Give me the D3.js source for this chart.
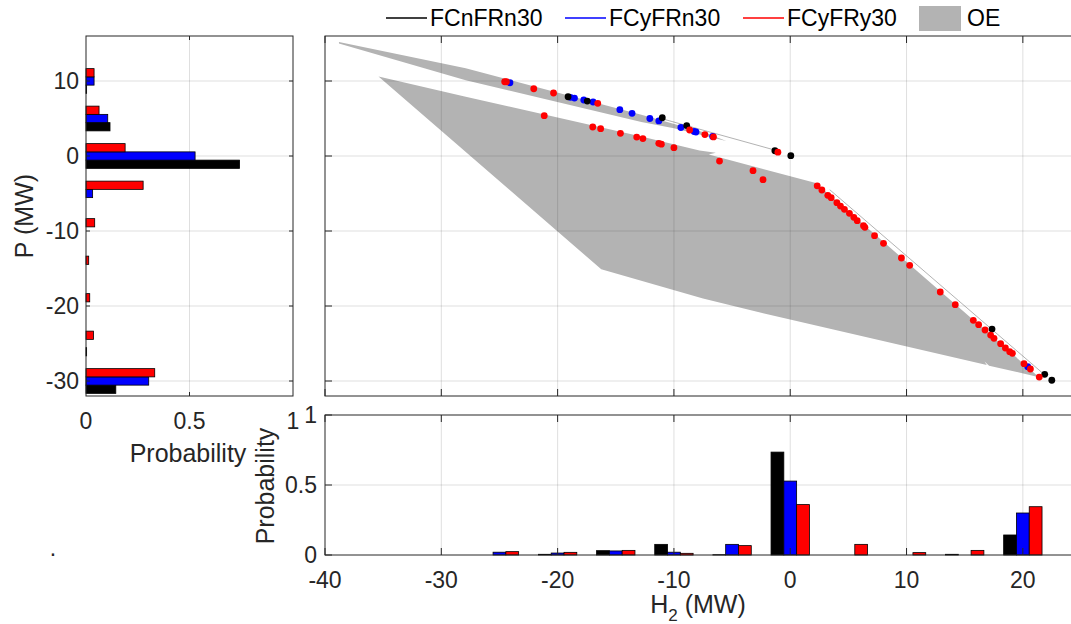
<!DOCTYPE html>
<html lang="en">
<head>
  <meta charset="UTF-8">
  <title>OE scatter with marginal histograms</title>
  <script src="https://d3js.org/d3.v7.min.js"></script>
  <style>
    body { margin: 0; background: #fff; }
    svg { font-family: "Liberation Sans", Arial, sans-serif; }
    .tick-label { font-size: 23px; fill: #262626; }
    .axis-label { font-size: 25px; fill: #262626; }
    .legend text { font-size: 23px; fill: #000; }
  </style>
</head>
<body>
  <svg width="1071" height="624"></svg>
  <script>
    // ---- data ----
    const seriesNames = ['FCnFRn30', 'FCyFRn30', 'FCyFRy30'];
    const seriesColors = ['#000000', '#0000ff', '#ff0000'];

    // P histogram (left), bins in MW
    const pBins = [10, 5, 0, -5, -10, -15, -20, -25, -30];
    const pBlack = [0.003, 0.116, 0.742, 0, 0, 0, 0, 0.003, 0.144];
    const pBlue = [0.039, 0.105, 0.527, 0.032, 0, 0, 0, 0, 0.303];
    const pRed = [0.039, 0.063, 0.189, 0.276, 0.042, 0.013, 0.018, 0.036, 0.332];

    // H2 histogram (bottom), bins in MW
    const hBins = [-25, -20, -15, -10, -5, 0, 5, 10, 15, 20];
    const hBlack = [0, 0.005, 0.031, 0.076, 0.002, 0.735, 0, 0, 0.005, 0.143];
    const hBlue = [0.02, 0.014, 0.029, 0.02, 0.076, 0.528, 0, 0, 0, 0.30];
    const hRed = [0.024, 0.019, 0.033, 0.012, 0.067, 0.36, 0.076, 0.017, 0.033, 0.345];

    // operating envelope (OE) outline
    const oeBigX = [-35.4, -27.9, -12.8, -7.8, -6.4, -7.0, 2.2, 21.4, 17.1, 16.7, 16.9, -2.5, -7.5, -16.25];
    const oeBigY = [10.6, 7.9, 2.6, 0.75, 0.45, 0.2, -3.6, -29.5, -27.95, -27.4, -27.85, -20.9, -19.0, -15.1];
    const oeSliverX = [-38.8, -27.9, -12.8, -7.3, -5.5, -10.0, -12.8, -27.9, -38.8];
    const oeSliverY = [15.2, 11.7, 5.5, 3.1, 2.0, 3.7, 4.55, 10.1, 15.0];
    const oeThinX = [[-11.1, -1.35], [3.4, 21.74]];
    const oeThinY = [[5.0, 0.8], [-4.5, -29.0]];

    // operating points (H2, P)
    const blackH2 = [-19.1, -17.45, -11.0, -8.9, -1.32, 0.05, 17.35, 21.88, 22.49];
    const blackP = [7.9, 7.33, 5.1, 4.06, 0.7, 0.04, -23.07, -29.11, -29.9];
    const blueH2 = [-24.1, -18.9, -18.55, -17.75, -16.95, -14.65, -13.6, -12.07, -11.3, -9.4, -8.27, -8.1, -6.67, 20.42];
    const blueP = [9.77, 7.82, 7.73, 7.47, 7.2, 6.18, 5.69, 5.0, 4.68, 3.8, 3.27, 3.2, 2.6, -28.09];
    const redH2 = [-24.55, -24.4, -22.05, -20.35, -16.55, -8.65, -7.34, -6.6, -1.06,
      -21.15, -16.98, -16.3, -14.6, -13.2, -12.67, -11.3, -11.08, -10.0, -6.08, -3.2, -2.34,
      2.32, 2.72, 3.23, 3.52, 4.01, 4.32, 4.66, 5.09, 5.47, 5.76, 6.3, 6.42, 7.25, 8.02,
      9.56, 10.27, 12.9, 14.19, 15.74, 16.2, 16.75, 17.23, 17.52, 18.09, 18.5, 18.87, 19.1,
      20.1, 20.65, 21.41];
    const redP = [9.9, 9.9, 8.97, 8.4, 7.02, 3.47, 2.86, 2.55, 0.51,
      5.38, 3.87, 3.64, 3.02, 2.53, 2.33, 1.69, 1.58, 1.11, -0.67, -1.96, -3.16,
      -3.97, -4.53, -5.24, -5.56, -6.22, -6.67, -7.11, -7.64, -8.18, -8.62, -9.29, -9.51, -10.62, -11.64,
      -13.6, -14.58, -18.13, -19.82, -21.91, -22.49, -23.2, -23.87, -24.31, -25.02, -25.6, -26.09, -26.31,
      -27.69, -28.4, -29.47];

    const xTicks = [-40, -30, -20, -10, 0, 10, 20];
    const pTicks = [-30, -20, -10, 0, 10];
    const probTicks = [0, 0.5, 1];

    // ---- layout ----
    const svg = d3.select('svg');
    const axisColor = '#262626';
    const oeColor = '#b3b3b3';

    const x = d3.scaleLinear().domain([-40, 25]).range([325, 1081]);
    const y = d3.scaleLinear().domain([-32, 16]).range([396, 36]);
    const xProbL = d3.scaleLinear().domain([0, 1]).range([86, 293]);
    const yProbB = d3.scaleLinear().domain([0, 1]).range([555, 415]);

    const barW = 1.1;   // MW, one bar of a group

    function gridLines(g, xs, ys, x0, x1, y0, y1) {
      xs.forEach(v => g.append('line').attr('x1', v).attr('x2', v).attr('y1', y0).attr('y2', y1));
      ys.forEach(v => g.append('line').attr('x1', x0).attr('x2', x1).attr('y1', v).attr('y2', v));
      g.attr('stroke', axisColor).attr('stroke-opacity', 0.15).attr('stroke-width', 1);
    }

    function frame(x0, x1, y0, y1) {
      svg.append('rect')
        .attr('x', x0).attr('y', y0).attr('width', x1 - x0).attr('height', y1 - y0)
        .attr('fill', 'none').attr('stroke', axisColor).attr('stroke-width', 1);
    }

    function ticks(xs, ys, x0, x1, y0, y1, len) {
      const g = svg.append('g').attr('stroke', axisColor).attr('stroke-width', 1);
      xs.forEach(v => {
        g.append('line').attr('x1', v).attr('x2', v).attr('y1', y1).attr('y2', y1 - len);
        g.append('line').attr('x1', v).attr('x2', v).attr('y1', y0).attr('y2', y0 + len);
      });
      ys.forEach(v => {
        g.append('line').attr('x1', x0).attr('x2', x0 + len).attr('y1', v).attr('y2', v);
        g.append('line').attr('x1', x1).attr('x2', x1 - len).attr('y1', v).attr('y2', v);
      });
    }

    // ---- main panel: OE + operating points ----
    const line = d3.line().x(d => x(d[0])).y(d => y(d[1]));
    const main = svg.append('g');
    main.append('path')
      .attr('d', line(d3.zip(oeBigX, oeBigY)) + 'Z')
      .attr('fill', oeColor);
    main.append('path')
      .attr('d', line(d3.zip(oeSliverX, oeSliverY)) + 'Z')
      .attr('fill', oeColor);
    oeThinX.forEach((xs, i) => {
      main.append('path')
        .attr('d', line(d3.zip(xs, oeThinY[i])))
        .attr('fill', 'none').attr('stroke', oeColor).attr('stroke-width', 1);
    });

    gridLines(svg.append('g'), xTicks.slice(1).map(x), pTicks.map(y), 325, 1081, 36, 396);

    const points = [
      { h: blueH2, p: blueP, c: seriesColors[1] },
      { h: blackH2, p: blackP, c: seriesColors[0] },
      { h: redH2, p: redP, c: seriesColors[2] }
    ];
    points.forEach(s => {
      main.append('g').selectAll('circle')
        .data(d3.zip(s.h, s.p))
        .enter()
        .append('circle')
        .attr('cx', d => x(d[0]))
        .attr('cy', d => y(d[1]))
        .attr('r', 3.4)
        .attr('fill', s.c);
    });

    frame(325, 1081, 36, 396);
    ticks(xTicks.map(x), pTicks.map(y), 325, 1081, 36, 396, 7);

    // ---- left panel: P histogram ----
    gridLines(svg.append('g'), [xProbL(0.5)], pTicks.map(y), 86, 293, 36, 396);
    const pSeries = [pBlack, pBlue, pRed];
    pSeries.forEach((vals, k) => {
      const off = (1 - k) * barW;  // black lowest, red on top
      svg.append('g').selectAll('rect')
        .data(d3.zip(pBins, vals).filter(d => d[1] > 0))
        .enter()
        .append('rect')
        .attr('x', xProbL(0))
        .attr('y', d => y(d[0] - off + barW / 2))
        .attr('width', d => xProbL(d[1]) - xProbL(0))
        .attr('height', y(0) - y(barW))
        .attr('fill', seriesColors[k])
        .attr('stroke', '#000')
        .attr('stroke-width', 0.8);
    });
    frame(86, 293, 36, 396);
    ticks([xProbL(0.5)], pTicks.map(y), 86, 293, 36, 396, 4);

    svg.append('g').selectAll('text')
      .data(pTicks)
      .enter()
      .append('text')
      .attr('class', 'tick-label')
      .attr('x', 79)
      .attr('y', d => y(d) + 8)
      .attr('text-anchor', 'end')
      .text(d => d);
    svg.append('g').selectAll('text')
      .data(probTicks)
      .enter()
      .append('text')
      .attr('class', 'tick-label')
      .attr('x', d => xProbL(d))
      .attr('y', 429)
      .attr('text-anchor', 'middle')
      .text(d => d);
    svg.append('text')
      .attr('class', 'axis-label')
      .attr('x', 188).attr('y', 462)
      .attr('text-anchor', 'middle')
      .text('Probability');
    svg.append('text')
      .attr('class', 'axis-label')
      .attr('transform', 'translate(33,216) rotate(-90)')
      .attr('text-anchor', 'middle')
      .text('P (MW)');
    svg.append('text')
      .attr('class', 'tick-label')
      .attr('x', 53).attr('y', 556)
      .attr('text-anchor', 'middle')
      .text('.');

    // ---- bottom panel: H2 histogram ----
    gridLines(svg.append('g'), xTicks.slice(1).map(x), [yProbB(0.5)], 325, 1081, 415, 555);
    const hSeries = [hBlack, hBlue, hRed];
    hSeries.forEach((vals, k) => {
      const off = (k - 1) * barW;
      svg.append('g').selectAll('rect')
        .data(d3.zip(hBins, vals).filter(d => d[1] > 0))
        .enter()
        .append('rect')
        .attr('x', d => x(d[0] + off - barW / 2))
        .attr('y', d => yProbB(d[1]))
        .attr('width', x(barW) - x(0))
        .attr('height', d => yProbB(0) - yProbB(d[1]))
        .attr('fill', seriesColors[k])
        .attr('stroke', '#000')
        .attr('stroke-width', 0.8);
    });
    frame(325, 1081, 415, 555);
    ticks(xTicks.map(x), probTicks.map(yProbB), 325, 1081, 415, 555, 7);

    svg.append('g').selectAll('text')
      .data(probTicks)
      .enter()
      .append('text')
      .attr('class', 'tick-label')
      .attr('x', 317)
      .attr('y', d => yProbB(d) + 8)
      .attr('text-anchor', 'end')
      .text(d => d);
    svg.append('g').selectAll('text')
      .data(xTicks)
      .enter()
      .append('text')
      .attr('class', 'tick-label')
      .attr('x', d => x(d))
      .attr('y', 588)
      .attr('text-anchor', 'middle')
      .text(d => d);
    const hLabel = svg.append('text')
      .attr('class', 'axis-label')
      .attr('x', 698).attr('y', 613)
      .attr('text-anchor', 'middle');
    hLabel.append('tspan').text('H');
    hLabel.append('tspan').attr('dy', 8).attr('font-size', 17).text('2');
    hLabel.append('tspan').attr('dy', -8).text(' (MW)');
    svg.append('text')
      .attr('class', 'axis-label')
      .attr('transform', 'translate(274,486) rotate(-90)')
      .attr('text-anchor', 'middle')
      .text('Probability');

    // ---- legend ----
    const legend = svg.append('g').attr('class', 'legend');
    const legendX = [386, 565, 743];
    seriesNames.forEach((name, i) => {
      legend.append('line')
        .attr('x1', legendX[i]).attr('x2', legendX[i] + 41).attr('y1', 18).attr('y2', 18)
        .attr('stroke', seriesColors[i]).attr('stroke-width', 1.5);
      legend.append('text').attr('x', legendX[i] + 44).attr('y', 26).text(name);
    });
    legend.append('rect')
      .attr('x', 919).attr('y', 6).attr('width', 42).attr('height', 25)
      .attr('fill', oeColor);
    legend.append('text').attr('x', 967).attr('y', 26).text('OE');
  </script>
</body>
</html>
